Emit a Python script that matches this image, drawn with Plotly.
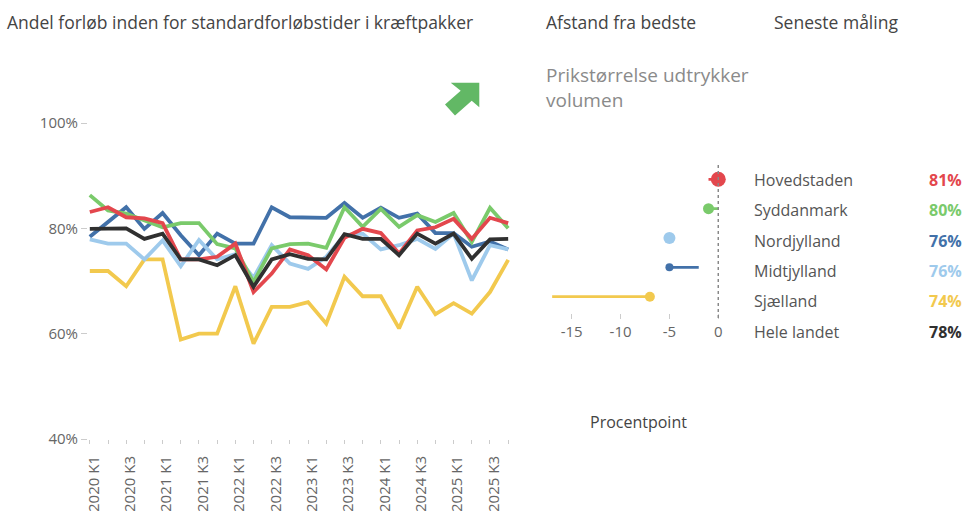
import plotly.graph_objects as go

# ---------------- data ----------------
quarters = ["2020 K1", "2020 K2", "2020 K3", "2020 K4",
            "2021 K1", "2021 K2", "2021 K3", "2021 K4",
            "2022 K1", "2022 K2", "2022 K3", "2022 K4",
            "2023 K1", "2023 K2", "2023 K3", "2023 K4",
            "2024 K1", "2024 K2", "2024 K3", "2024 K4",
            "2025 K1", "2025 K2", "2025 K3", "2025 K4"]

hovedstaden = [83.1, 84.0, 82.1, 81.9, 81.0, 74.1, 74.1, 74.6, 77.1, 67.9, 71.4, 76.0,
               74.9, 72.2, 78.2, 79.9, 79.1, 75.2, 79.6, 80.2, 81.8, 78.0, 82.0, 81.0]
syddanmark = [86.3, 83.4, 82.8, 81.5, 80.2, 81.0, 81.0, 77.0, 76.2, 69.8, 76.2, 77.0,
              77.1, 76.3, 84.0, 80.3, 83.7, 80.3, 82.5, 81.2, 82.9, 77.4, 83.9, 80.0]
nordjylland = [78.4, 81.2, 84.0, 79.9, 82.9, 78.7, 74.9, 79.0, 77.1, 77.1, 84.0, 82.1,
               82.0, 82.0, 84.8, 82.0, 83.9, 82.0, 82.8, 79.1, 79.1, 76.5, 77.5, 76.0]
midtjylland = [77.9, 77.1, 77.1, 74.1, 77.7, 72.8, 77.8, 74.1, 75.1, 70.6, 76.8, 73.3,
               72.3, 74.6, 78.7, 79.0, 76.0, 76.8, 78.0, 76.1, 79.0, 70.1, 76.8, 76.0]
sjaelland = [71.9, 71.9, 69.0, 74.1, 74.1, 58.9, 60.0, 60.0, 69.0, 58.1, 65.1, 65.1,
             66.0, 61.9, 70.8, 67.1, 67.1, 61.0, 68.9, 63.7, 65.8, 63.8, 67.9, 74.0]
hele_landet = [79.9, 80.0, 80.0, 78.0, 79.0, 74.1, 74.1, 73.0, 74.9, 68.9, 74.1, 75.1,
               74.2, 74.1, 78.9, 78.0, 78.0, 74.9, 79.0, 77.1, 79.0, 74.2, 77.9, 78.0]

regions = ["Hovedstaden", "Syddanmark", "Nordjylland", "Midtjylland", "Sjælland", "Hele landet"]
series = {"Hovedstaden": hovedstaden, "Syddanmark": syddanmark, "Nordjylland": nordjylland,
          "Midtjylland": midtjylland, "Sjælland": sjaelland, "Hele landet": hele_landet}

y_ticks = [40, 60, 80, 100]
y_tick_labels = ["40%", "60%", "80%", "100%"]
dist_ticks = [-15, -10, -5, 0]
dist_tick_labels = ["-15", "-10", "-5", "0"]

# volume per dot row (relative) and earlier distance (tail end)
volumen = [2250, 1210, 1440, 640, 1000]
tidligere_afstand = [-1, 0, -5, -2, -17]

# ---------------- styling ----------------
W, H = 965, 511
def px(x): return x / W
def py(y): return 1 - y / H

colors = {"Hovedstaden": "#E3474D", "Syddanmark": "#7ACA6B", "Nordjylland": "#4271A9",
          "Midtjylland": "#9ECAEC", "Sjælland": "#F2C94E", "Hele landet": "#303030"}
FONT = "Open Sans"

fig = go.Figure()

draw_order = ["Sjælland", "Nordjylland", "Midtjylland", "Syddanmark", "Hovedstaden", "Hele landet"]
for r in draw_order:
    fig.add_trace(go.Scatter(x=quarters, y=series[r], mode="lines", name=r,
                             line=dict(color=colors[r], width=3.8),
                             xaxis="x", yaxis="y", showlegend=False))

latest = [round(series[r][-1]) for r in regions]
best = max(latest[:5])
dist = [v - best for v in latest[:5]]
dot_colors = [colors["Hovedstaden"], colors["Syddanmark"], colors["Midtjylland"],
              colors["Nordjylland"], colors["Sjælland"]]
rows = list(range(5))
for i in rows:
    fig.add_trace(go.Scatter(x=[tidligere_afstand[i], dist[i]], y=[i, i], mode="lines",
                             line=dict(color=dot_colors[i], width=2.8),
                             xaxis="x2", yaxis="y2", showlegend=False, cliponaxis=True))
fig.add_trace(go.Scatter(x=dist, y=rows, mode="markers",
                         marker=dict(color=dot_colors, size=[(v / 10) ** 0.5 for v in volumen],
                                     line=dict(width=0), opacity=1),
                         xaxis="x2", yaxis="y2", showlegend=False, cliponaxis=False))

tick_text = [q if i % 2 == 0 else "" for i, q in enumerate(quarters)]

fig.update_layout(
    width=W, height=H, margin=dict(l=0, r=0, t=0, b=0, pad=0),
    paper_bgcolor="white", plot_bgcolor="rgba(0,0,0,0)",
    font=dict(family=FONT, color="#666"),
    xaxis=dict(domain=[px(88), px(510)], range=[-0.1, len(quarters) - 0.9], type="category",
               tickmode="array", tickvals=quarters, ticktext=tick_text, tickangle=-90,
               ticks="outside", ticklen=4, tickcolor="#cccccc", tickwidth=1,
               ticklabelstandoff=6, ticklabelshift=4,
               showgrid=False, zeroline=False, showline=False, automargin=False,
               tickfont=dict(size=15, color="#666"), anchor="y"),
    yaxis=dict(domain=[py(439), py(123)], range=[40, 100], tickmode="array",
               tickvals=y_ticks, ticktext=y_tick_labels,
               ticks="outside", ticklen=6, tickcolor="#cccccc", tickwidth=1,
               showgrid=False, zeroline=False, showline=False, automargin=False,
               tickfont=dict(size=15, color="#666"), anchor="x"),
    xaxis2=dict(domain=[px(550.2), px(726.1)], range=[-17.2, 0.8], tickmode="array",
                tickvals=dist_ticks, ticktext=dist_tick_labels,
                ticks="outside", ticklen=5, tickcolor="#cccccc", tickwidth=1,
                showgrid=False, zeroline=False, showline=False, automargin=False,
                tickfont=dict(size=15, color="#666"), anchor="y2"),
    yaxis2=dict(domain=[py(313), py(165)], range=[4.555, -0.487], visible=False,
                automargin=False, anchor="x2"),
)

# dotted reference line at 0
fig.add_shape(type="line", xref="x2", yref="paper", x0=0, x1=0, y0=py(318), y1=py(165),
              line=dict(color="#888", width=1.5, dash="dot"))

# green trend arrow
pts = [(450.7, 82.7), (479.3, 82.7), (479.3, 107.3), (471.7, 100.7),
       (455.0, 115.5), (445.0, 104.5), (460.7, 90.7)]
path = "M " + " L ".join(f"{px(x):.5f},{py(y):.5f}" for x, y in pts) + " Z"
fig.add_shape(type="path", xref="paper", yref="paper", path=path,
              fillcolor="#62B865", line=dict(width=0))

def note(text, x, y, size=15, color="#444", xanchor="left", bold=False):
    fig.add_annotation(text=f"<b>{text}</b>" if bold else text, x=px(x), y=py(y),
                       xref="paper", yref="paper", xanchor=xanchor, yanchor="middle",
                       align="left", showarrow=False, borderpad=0,
                       font=dict(family=FONT, size=size, color=color))

note("Andel forløb inden for standardforløbstider i kræftpakker", 6, 22, size=17.5)
note("Afstand fra bedste", 545, 22, size=17.5)
note("Seneste måling", 773, 22, size=17.5)
note("Prikstørrelse udtrykker<br>volumen", 545, 87, size=19, color="#8a8a8a")
note("Procentpoint", 638, 422, size=16, xanchor="center")

for i, r in enumerate(regions):
    yy = 180 + 30.3 * i
    note(r, 753, yy, size=16, color="#555")
    note(f"{latest[i]}%", 963, yy, size=16, color=colors[r], xanchor="right", bold=True)

fig.write_html("out.html", config={"displayModeBar": False, "staticPlot": True},
               post_script="document.body.style.margin='0';document.body.style.overflow='hidden';")
